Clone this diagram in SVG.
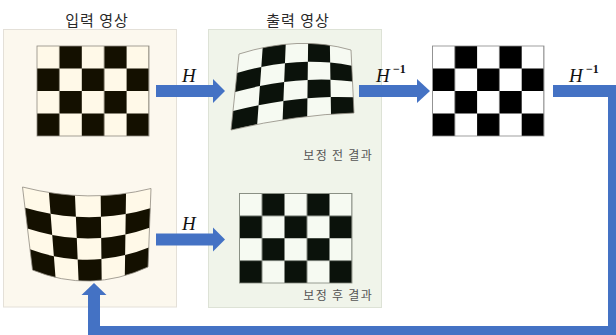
<svg xmlns="http://www.w3.org/2000/svg" width="616" height="335" viewBox="0 0 616 335">
<style>
.title{font-family:"Noto Sans CJK KR","Noto Sans",sans-serif;font-size:15px;fill:#2a2a2a;text-anchor:middle;letter-spacing:1px}
.cap{font-family:"Noto Sans CJK KR","Noto Sans",sans-serif;font-size:12px;fill:#555555;text-anchor:end;letter-spacing:1.3px}
.math{font-family:"Liberation Serif","DejaVu Serif",serif;font-style:italic;font-size:19px;fill:#111}
.sup{font-family:"Liberation Serif","DejaVu Serif",serif;font-style:normal;font-weight:bold;font-size:12px;fill:#111}
.conn{fill:none;stroke:#4472c4;stroke-width:12;stroke-linejoin:miter}
.head{fill:#4472c4}
.bk1{fill:#141000}
.bk2{fill:#0b120b}
.edge{fill:none;stroke:#8f8a80;stroke-width:0.8}
</style>
<defs>
<pattern id="p1" patternUnits="userSpaceOnUse" x="37" y="46" width="44.8" height="45">
<rect width="44.8" height="45" fill="#fff9e8"/>
<rect x="22.4" y="0" width="22.4" height="22.5" fill="#141000"/>
<rect x="0" y="22.5" width="22.4" height="22.5" fill="#141000"/>
</pattern>
<pattern id="p2" patternUnits="userSpaceOnUse" x="239.5" y="193.5" width="45" height="44.75">
<rect width="45" height="44.75" fill="#f6faf2"/>
<rect x="22.5" y="0" width="22.5" height="22.375" fill="#0b120b"/>
<rect x="0" y="22.375" width="22.5" height="22.375" fill="#0b120b"/>
</pattern>
<pattern id="p3" patternUnits="userSpaceOnUse" x="432.5" y="46" width="44.6" height="45">
<rect width="44.6" height="45" fill="#ffffff"/>
<rect x="22.3" y="0" width="22.3" height="22.5" fill="#000000"/>
<rect x="0" y="22.5" width="22.3" height="22.5" fill="#000000"/>
</pattern>
</defs>
<rect width="616" height="335" fill="#ffffff"/>

<g id="input-panel">
<rect x="3.5" y="29.5" width="173" height="277.5" fill="#fcf8ee" stroke="#e4e0d8" stroke-width="1"/>
<text class="title" x="97" y="26">입력 영상</text>
</g>

<g id="output-panel">
<rect x="208.5" y="29.5" width="173" height="278" fill="#f0f4ea" stroke="#dde2d6" stroke-width="1"/>
<text class="title" x="298" y="26">출력 영상</text>
</g>

<g id="input-board">
<rect x="37" y="46" width="112" height="90" fill="url(#p1)" stroke="#8f8a80" stroke-width="0.8"/>
</g>

<g id="input-warped">
<path d="M22.5,187 Q89,204 151,188.5 L148,267 Q90,293.5 32.5,270 Z" fill="#fff9e8"/>
<path class="bk1" d="M48.92,192.5 Q62.04,194.6 74.98,195.4 L75.88,216.75 Q63.29,215.98 50.57,213.73 Z"/>
<path class="bk1" d="M100.68,195.7 Q113.44,195.2 126.02,193.4 L125.72,213.95 Q113.39,216.13 100.93,216.83 Z"/>
<path class="bk1" d="M25,207.75 Q37.85,211.48 50.57,213.73 L52.22,234.95 Q39.9,232.55 27.5,228.5 Z"/>
<path class="bk1" d="M75.88,216.75 Q88.47,217.53 100.93,216.83 L101.18,237.95 Q89.02,238.85 76.78,238.1 Z"/>
<path class="bk1" d="M125.72,213.95 Q138.05,211.78 150.25,208.125 L149.5,227.75 Q137.5,231.95 125.42,234.5 Z"/>
<path class="bk1" d="M52.22,234.95 Q64.54,237.35 76.78,238.1 L77.68,259.45 Q65.79,258.73 53.87,256.18 Z"/>
<path class="bk1" d="M101.18,237.95 Q113.34,237.05 125.42,234.5 L125.12,255.05 Q113.29,257.98 101.43,259.08 Z"/>
<path class="bk1" d="M30,249.25 Q41.95,253.63 53.87,256.18 L55.52,277.4 Q44,274.7 32.5,270 Z"/>
<path class="bk1" d="M77.68,259.45 Q89.57,260.18 101.43,259.08 L101.68,280.2 Q90.12,281.5 78.58,280.8 Z"/>
<path class="bk1" d="M125.12,255.05 Q136.95,252.13 148.75,247.375 L148,267 Q136.4,272.3 124.82,275.6 Z"/>
<path class="edge" d="M22.5,187 Q89,204 151,188.5 L148,267 Q90,293.5 32.5,270 Z"/>
</g>

<g id="output-warped">
<path d="M239,54 Q299,35 351,50 L354,113 Q297.5,114.5 231,130 Z" fill="#f6faf2"/>
<path class="bk2" d="M262.68,47.76 Q274.36,45.32 285.72,44.24 L284.94,63.14 Q273.3,64.45 261.31,66.91 Z"/>
<path class="bk2" d="M308.12,43.44 Q319.16,43.72 329.88,45.36 L330.16,62.56 Q319.2,61.55 307.89,61.69 Z"/>
<path class="bk2" d="M237,73 Q249.33,69.38 261.31,66.91 L259.94,86.06 Q247.65,88.55 235,92 Z"/>
<path class="bk2" d="M284.94,63.14 Q296.59,61.84 307.89,61.69 L307.66,79.94 Q296.09,80.51 284.16,82.04 Z"/>
<path class="bk2" d="M330.16,62.56 Q341.13,63.58 351.75,65.75 L352.5,81.5 Q341.65,80.15 330.44,79.76 Z"/>
<path class="bk2" d="M259.94,86.06 Q272.23,83.57 284.16,82.04 L283.38,100.94 Q271.17,102.7 258.57,105.21 Z"/>
<path class="bk2" d="M307.66,79.94 Q319.23,79.37 330.44,79.76 L330.72,96.96 Q319.27,97.2 307.43,98.19 Z"/>
<path class="bk2" d="M233,111 Q245.98,107.73 258.57,105.21 L257.2,124.36 Q244.3,126.9 231,130 Z"/>
<path class="bk2" d="M283.38,100.94 Q295.6,99.19 307.43,98.19 L307.2,116.44 Q295.1,117.86 282.6,119.84 Z"/>
<path class="bk2" d="M330.72,96.96 Q342.18,96.73 353.25,97.25 L354,113 Q342.7,113.3 331,114.16 Z"/>
<path class="edge" d="M239,54 Q299,35 351,50 L354,113 Q297.5,114.5 231,130 Z"/>
<text class="cap" x="373" y="160">보정 전 결과</text>
</g>

<g id="output-corrected">
<rect x="239.5" y="193.5" width="112.5" height="89.5" fill="url(#p2)" stroke="#7f867a" stroke-width="0.8"/>
<text class="cap" x="373" y="300">보정 후 결과</text>
</g>

<g id="restored-board">
<rect x="432.5" y="46" width="111.5" height="90" fill="url(#p3)" stroke="#888888" stroke-width="0.8"/>
</g>

<g id="connectors">
<path class="conn" d="M156,91 H214"/>
<polygon class="head" points="213,79 225,91 213,103"/>
<path class="conn" d="M359,91 H418"/>
<polygon class="head" points="417,79 430,91 417,103"/>
<path class="conn" d="M156,239.5 H214"/>
<polygon class="head" points="213,227.5 225,239.5 213,251.5"/>
<path class="conn" d="M553,91 H614 V332 H94 V294"/>
<polygon class="head" points="81.5,295 94,283 106.5,295"/>
<text class="math" x="182" y="82">H</text>
<text class="math" x="182" y="230">H</text>
<text class="math" x="376" y="82">H</text><text class="sup" x="393" y="73">−1</text>
<text class="math" x="569" y="82">H</text><text class="sup" x="586" y="73">−1</text>
</g>
</svg>
